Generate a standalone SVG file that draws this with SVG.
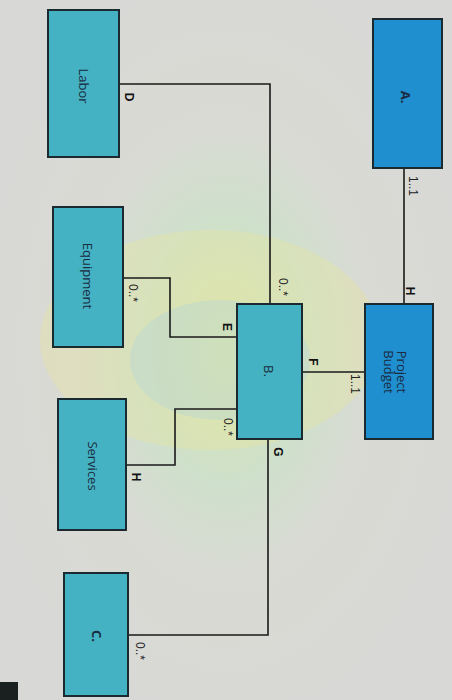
<svg xmlns="http://www.w3.org/2000/svg" width="452" height="700" viewBox="0 0 452 700">
<defs>
<radialGradient id="bg" cx="0.5" cy="0.5" r="0.55">
<stop offset="0" stop-color="#d9e6b0"/>
<stop offset="0.35" stop-color="#cfe0cc"/>
<stop offset="0.6" stop-color="#dadad4"/>
<stop offset="1" stop-color="#d8d8d6"/>
</radialGradient>
<style>
.box{stroke:#1a2a30;stroke-width:2}
.dark{fill:#1f8fcf}
.teal{fill:#44b2c2}
.lbl{font-family:"Open Sans","Liberation Sans",Arial,sans-serif;font-size:13px;fill:#1a2a40;text-anchor:middle;dominant-baseline:central}
.mul{font-family:"Liberation Sans",Arial,sans-serif;font-size:12px;fill:#222;text-anchor:middle;dominant-baseline:central}
.rl{font-family:"Liberation Sans",Arial,sans-serif;font-size:12px;font-weight:bold;fill:#111;text-anchor:middle;dominant-baseline:central}
.ln{fill:none;stroke:#1a1a1a;stroke-width:1.6}
</style>
</defs>
<rect width="452" height="700" fill="url(#bg)"/>
<ellipse cx="210" cy="340" rx="170" ry="110" fill="#e8e49a" opacity="0.35"/>
<ellipse cx="220" cy="360" rx="90" ry="60" fill="#a9d2e6" opacity="0.3"/>
<rect x="0" y="682" width="18" height="18" fill="#1a2020"/>
<g id="connectors">
<path class="ln" d="M404,168 V304"/>
<path class="ln" d="M119,84 H270 V304"/>
<path class="ln" d="M123,278 H170 V337 H237"/>
<path class="ln" d="M302,372 H365"/>
<path class="ln" d="M126,465 H175 V409 H237"/>
<path class="ln" d="M268,439 V635 H128"/>
</g>
<g id="labels">
<text class="mul" transform="translate(413,186) rotate(90)">1..1</text>
<text class="rl" transform="translate(410,291) rotate(90)">H</text>
<text class="rl" transform="translate(129,97) rotate(90)">D</text>
<text class="mul" transform="translate(283,287) rotate(90)">0..*</text>
<text class="mul" transform="translate(133,293) rotate(90)">0..*</text>
<text class="rl" transform="translate(227,327) rotate(90)">E</text>
<text class="rl" transform="translate(313,362) rotate(90)">F</text>
<text class="mul" transform="translate(355,384) rotate(90)">1..1</text>
<text class="mul" transform="translate(228,427) rotate(90)">0..*</text>
<text class="rl" transform="translate(278,452) rotate(90)">G</text>
<text class="rl" transform="translate(136,477) rotate(90)">H</text>
<text class="mul" transform="translate(140,651) rotate(90)">0..*</text>
</g>
<g id="A"><rect class="box dark" x="373" y="19" width="69" height="149"/><text class="lbl" font-weight="bold" transform="translate(406,97) rotate(90)">A.</text></g>
<g id="Labor"><rect class="box teal" x="48" y="10" width="71" height="147"/><text class="lbl" transform="translate(84,86) rotate(90)">Labor</text></g>
<g id="Equipment"><rect class="box teal" x="53" y="207" width="70" height="140"/><text class="lbl" transform="translate(88,276) rotate(90)">Equipment</text></g>
<g id="B"><rect class="box teal" x="237" y="304" width="65" height="135"/><text class="lbl" transform="translate(269,371) rotate(90)">B.</text></g>
<g id="ProjectBudget"><rect class="box dark" x="365" y="304" width="68" height="135"/><text class="lbl" transform="translate(402,372) rotate(90)">Project</text><text class="lbl" transform="translate(389,372) rotate(90)">Budget</text></g>
<g id="Services"><rect class="box teal" x="58" y="399" width="68" height="131"/><text class="lbl" transform="translate(93,466) rotate(90)">Services</text></g>
<g id="C"><rect class="box teal" x="64" y="573" width="64" height="123"/><text class="lbl" font-weight="bold" transform="translate(97,636) rotate(90)">C.</text></g>
</svg>
